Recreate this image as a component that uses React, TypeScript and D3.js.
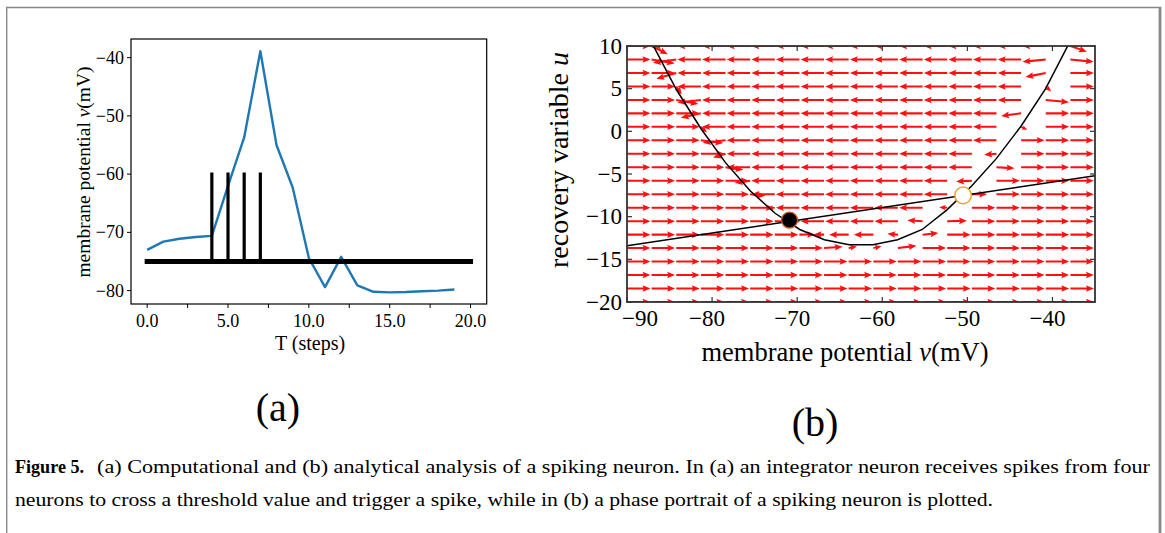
import React from 'react';
import * as d3 from 'd3';

// ---------- Panel (a) data ----------
const T_STEPS = [0, 1, 2, 3, 4, 5, 6, 7, 8, 9, 10, 11, 12, 13, 14, 15, 16, 17, 18, 19];
const MEMBRANE_V = [-73.0, -71.6, -71.1, -70.8, -70.6, -62.0, -53.7, -38.9, -55.0, -62.3, -74.4, -79.4, -74.2, -79.1, -80.2, -80.3, -80.25, -80.1, -80.0, -79.8];
const SPIKE_TIMES = [4, 5, 6, 7];
const SPIKE_TOP = -60;
const THRESHOLD_V = -75;
const THRESHOLD_SPAN = [0, 20];
const A_X_TICKS = [0, 2.5, 5, 7.5, 10, 12.5, 15, 17.5, 20];
const A_X_LABELED = [0, 5, 10, 15, 20];
const A_Y_TICKS = [-40, -50, -60, -70, -80];

// ---------- Panel (b) data ----------
const GRID_V = [-90, -87.11, -84.21, -81.32, -78.42, -75.53, -72.63, -69.74, -66.84, -63.95, -61.05, -58.16, -55.26, -52.37, -49.47, -46.58, -43.68, -40.79, -37.89, -35];
const GRID_U = [10, 8.42, 6.84, 5.26, 3.68, 2.11, 0.53, -1.05, -2.63, -4.21, -5.79, -7.37, -8.95, -10.53, -12.11, -13.68, -15.26, -16.84, -18.42, -20];
// R = full arrow to the right, L = full arrow to the left, X = see ARROW_SPECIAL
const ARROW_ROWS = [
  'RXLLLLLLLLLLLLLLLLXR',
  'RRLLLLLLLLLLLLLLLLRR',
  'RRLLLLLLLLLLLLLLLLRR',
  'RRXLLLLLLLLLLLLLLXRR',
  'RRRLLLLLLLLLLLLLLRRR',
  'RRRLLLLLLLLLLLLLLRRR',
  'RRRXLLLLLLLLLLLLXRRR',
  'RRRRLLLLLLLLLLLLRRRR',
  'RRRRXLLLLLLLLLLXRRRR',
  'RRRRXLLLLLLLLLLXRRRR',
  'RRRRRXLLLLLLLLXRRRRR',
  'RRRRRXLLLLLLLLXRRRRR',
  'RRRRRRXLLLLLLXRRRRRR',
  'RRRRRRXXLLLLXXRRRRRR',
  'RRRRRRRXXLLXXRRRRRRR',
  'RRRRRRRRXXXXRRRRRRRR',
  'RRRRRRRRRRRRRRRRRRRR',
  'RRRRRRRRRRRRRRRRRRRR',
  'RRRRRRRRRRRRRRRRRRRR',
  'RRRRRRRRRRRRRRRRRRRR',
];
// [row, col, dv, du] (arrow units, du positive = up)
const ARROW_SPECIAL: [number, number, number, number][] = [
  [0, 1, 0.69, -0.35], [0, 18, 0.70, -0.24],
  [1, 1, 0.98, -0.17], [1, 2, -0.99, -0.14], [1, 17, -0.99, -0.10], [1, 18, 0.99, -0.10],
  [2, 2, -0.85, -0.25], [2, 17, -0.86, -0.17],
  [3, 2, 0.23, -0.34], [3, 17, 0.23, -0.22],
  [4, 2, 0.94, -0.17], [4, 3, -0.99, -0.11], [4, 17, 0.99, -0.10],
  [5, 3, -0.85, -0.19], [5, 16, -0.85, -0.11],
  [6, 3, 0.26, -0.24], [6, 16, 0.26, -0.13],
  [7, 3, 0.95, -0.12], [7, 4, -0.97, -0.10],
  [8, 4, -0.53, -0.16], [8, 15, -0.52, -0.04],
  [9, 4, 0.76, -0.11], [9, 15, 0.77, -0.04],
  [10, 5, -0.66, -0.09], [10, 14, -0.67, -0.03],
  [11, 5, 0.65, -0.07], [11, 14, 0.65, 0.0],
  [12, 6, -0.34, -0.04], [12, 13, -0.34, 0.02],
  [13, 6, 0.84, -0.01], [13, 7, -0.65, 0.0], [13, 12, -0.65, 0.04], [13, 13, 0.84, 0.02],
  [14, 7, 0.67, 0.01], [14, 8, -0.45, 0.01], [14, 9, -0.83, 0.0], [14, 10, -0.83, 0.0], [14, 11, -0.45, 0.04], [14, 12, 0.67, 0.07],
  [15, 8, 0.79, 0.06], [15, 9, 0.35, 0.07], [15, 10, 0.35, 0.08], [15, 11, 0.79, 0.10],
];
const NULL_V = [-90, -87.1, -84.2, -81.3, -78.4, -75.5, -72.6, -69.7, -66.8, -63.9, -61.1, -58.2, -55.3, -52.4, -49.5, -46.6, -43.7, -40.8, -37.9, -35];
const NULL_U = [16.4, 10.4, 4.9, 0.3, -3.7, -7.0, -9.6, -11.5, -12.7, -13.3, -13.3, -12.7, -11.5, -9.2, -6.4, -3.2, 0.6, 5.0, 10.6, 16.6];
const U_NULL_V = [-90, -35];
const U_NULL_U = [-13.4, -5.2];
const STABLE_PT = [-70.9, -10.4];
const UNSTABLE_PT = [-50.5, -7.5];
const B_X_TICKS = [-90, -80, -70, -60, -50, -40];
const B_Y_TICKS = [10, 5, 0, -5, -10, -15, -20];

const SERIF = "'Liberation Serif', 'Times New Roman', serif";

function arrowPath(x0: number, y0: number, vx: number, vy: number): string {
  const L = Math.hypot(vx, vy);
  if (L < 0.5) return '';
  const ux = vx / L, uy = vy / L;
  const px = -uy, py = ux;
  const s = Math.min(1, L / 10);
  const hl = 8 * s, hal = 7 * s, hw = 3.3 * s, sw = 1.05 * s;
  const pt = (a: number, b: number) => `${(x0 + ux * a + px * b).toFixed(2)},${(y0 + uy * a + py * b).toFixed(2)}`;
  return `M${pt(0, sw)}L${pt(L - hal, sw)}L${pt(L - hl, hw)}L${pt(L, 0)}L${pt(L - hl, -hw)}L${pt(L - hal, -sw)}L${pt(0, -sw)}Z`;
}

export default function App() {
  const fmtInt = d3.format('d');
  const fmt1 = d3.format('.1f');

  // Panel (a)
  const ax = d3.scaleLinear().domain([-1, 21]).range([131, 486.7]);
  const ay = d3.scaleLinear().domain([-36.8, -82.3]).range([39, 304]);
  const vLine = d3.line<number>().x((_, i) => ax(T_STEPS[i])).y((d) => ay(d));

  // Panel (b)
  const bx = d3.scaleLinear().domain([-90, -35]).range([627, 1095]);
  const by = d3.scaleLinear().domain([10, -20]).range([46, 302]);
  const nullLine = d3.line<number>().x((_, i) => bx(NULL_V[i])).y((d) => by(d));
  const ARROW_UNIT = 23.5;

  const special = new Map<string, [number, number]>();
  ARROW_SPECIAL.forEach(([r, c, dv, du]) => special.set(`${r},${c}`, [dv, du]));

  const arrows: string[] = [];
  ARROW_ROWS.forEach((row, r) => {
    row.split('').forEach((ch, c) => {
      let vec: [number, number];
      const sp = special.get(`${r},${c}`);
      if (sp) vec = sp;
      else vec = ch === 'R' ? [1, 0] : [-1, 0];
      arrows.push(arrowPath(bx(GRID_V[c]), by(GRID_U[r]), vec[0] * ARROW_UNIT, -vec[1] * ARROW_UNIT));
    });
  });

  return (
    <svg width={1165} height={533} style={{ position: 'absolute', left: 0, top: 0, background: '#fff' }}>
      <defs>
        <clipPath id="clipA"><rect x={131} y={39} width={355.7} height={265} /></clipPath>
        <clipPath id="clipB"><rect x={627} y={46} width={468} height={256} /></clipPath>
      </defs>
      {/* page frame */}
      <line x1={6} y1={7.5} x2={1161} y2={7.5} stroke="#888" strokeWidth={1.4} />
      <line x1={6.7} y1={7} x2={6.7} y2={533} stroke="#888" strokeWidth={1.4} />
      <line x1={1160} y1={7} x2={1160} y2={533} stroke="#888" strokeWidth={2.8} />

      {/* ---------- Panel (a) ---------- */}
      <g clipPath="url(#clipA)">
        <path d={vLine(MEMBRANE_V) || ''} fill="none" stroke="#1f77b4" strokeWidth={2.4} strokeLinejoin="round" />
        <line x1={ax(THRESHOLD_SPAN[0])} x2={ax(THRESHOLD_SPAN[1])} y1={ay(THRESHOLD_V)} y2={ay(THRESHOLD_V)} stroke="#000" strokeWidth={5} strokeLinecap="square" />
        {SPIKE_TIMES.map((t) => (
          <line key={t} x1={ax(t)} x2={ax(t)} y1={ay(THRESHOLD_V)} y2={ay(SPIKE_TOP)} stroke="#000" strokeWidth={3.2} strokeLinecap="square" />
        ))}
      </g>
      <rect x={131} y={39} width={355.7} height={265} fill="none" stroke="#000" strokeWidth={1.2} />
      {A_X_TICKS.map((t) => (
        <line key={'axt' + t} x1={ax(t)} x2={ax(t)} y1={304} y2={308} stroke="#000" strokeWidth={1} />
      ))}
      {A_X_LABELED.map((t) => (
        <text key={'axl' + t} x={ax(t)} y={327} textAnchor="middle" fontFamily={SERIF} fontSize={18}>{fmt1(t)}</text>
      ))}
      {A_Y_TICKS.map((t) => (
        <g key={'ayt' + t}>
          <line x1={127} x2={131} y1={ay(t)} y2={ay(t)} stroke="#000" strokeWidth={1} />
          <text x={124} y={ay(t)} dy="0.33em" textAnchor="end" fontFamily={SERIF} fontSize={18}>{fmtInt(t)}</text>
        </g>
      ))}
      <text x={310} y={350} textAnchor="middle" fontFamily={SERIF} fontSize={20}>T (steps)</text>
      <text transform="translate(90,172) rotate(-90)" textAnchor="middle" fontFamily={SERIF} fontSize={19.5}>
        membrane potential <tspan fontStyle="italic">v</tspan>(mV)
      </text>
      <text x={278} y={421} textAnchor="middle" fontFamily={SERIF} fontSize={40}>(a)</text>

      {/* ---------- Panel (b) ---------- */}
      <g clipPath="url(#clipB)">
        {arrows.map((d, i) => (d ? <path key={i} d={d} fill="#ff1010" /> : null))}
        <path d={nullLine(NULL_U) || ''} fill="none" stroke="#000" strokeWidth={1.5} />
        <line x1={bx(U_NULL_V[0])} y1={by(U_NULL_U[0])} x2={bx(U_NULL_V[1])} y2={by(U_NULL_U[1])} stroke="#000" strokeWidth={1.5} />
      </g>
      <circle cx={bx(STABLE_PT[0])} cy={by(STABLE_PT[1])} r={8} fill="#000" stroke="#c8561e" strokeWidth={1.3} />
      <circle cx={bx(UNSTABLE_PT[0])} cy={by(UNSTABLE_PT[1])} r={8.3} fill="#fff" stroke="#e8a630" strokeWidth={1.5} />
      <rect x={627} y={46} width={468} height={256} fill="none" stroke="#333" strokeWidth={1.8} />
      {B_X_TICKS.map((t, i) => (
        <g key={'bxt' + t}>
          <line x1={bx(t)} x2={bx(t)} y1={302} y2={297} stroke="#333" strokeWidth={1.2} />
          <line x1={bx(t)} x2={bx(t)} y1={46} y2={51} stroke="#333" strokeWidth={1.2} />
          <text x={bx(t) - 5} y={326} textAnchor={i === 0 ? 'start' : 'middle'} fontFamily={SERIF} fontSize={23}>{fmtInt(t)}</text>
        </g>
      ))}
      {B_Y_TICKS.map((t) => (
        <g key={'byt' + t}>
          <line x1={627} x2={632} y1={by(t)} y2={by(t)} stroke="#333" strokeWidth={1.2} />
          <line x1={1095} x2={1090} y1={by(t)} y2={by(t)} stroke="#333" strokeWidth={1.2} />
          <text x={622} y={by(t)} dy="0.34em" textAnchor="end" fontFamily={SERIF} fontSize={23}>{fmtInt(t)}</text>
        </g>
      ))}
      <text x={845} y={361} textAnchor="middle" fontFamily={SERIF} fontSize={26.5}>
        membrane potential <tspan fontStyle="italic">v</tspan>(mV)
      </text>
      <text transform="translate(568,160) rotate(-90)" textAnchor="middle" fontFamily={SERIF} fontSize={28}>
        recovery variable <tspan fontStyle="italic">u</tspan>
      </text>
      <text x={815} y={436} textAnchor="middle" fontFamily={SERIF} fontSize={40}>(b)</text>

      {/* ---------- Caption ---------- */}
      <text x={15} y={473} fontFamily={SERIF} fontSize={19} fontWeight="bold" textLength={69} lengthAdjust="spacingAndGlyphs">Figure 5.</text>
      <text x={97} y={473} fontFamily={SERIF} fontSize={19} textLength={1053} lengthAdjust="spacingAndGlyphs">(a) Computational and (b) analytical analysis of a spiking neuron. In (a) an integrator neuron receives spikes from four</text>
      <text x={15} y={506} fontFamily={SERIF} fontSize={19} textLength={978} lengthAdjust="spacingAndGlyphs">neurons to cross a threshold value and trigger a spike, while in (b) a phase portrait of a spiking neuron is plotted.</text>
    </svg>
  );
}
